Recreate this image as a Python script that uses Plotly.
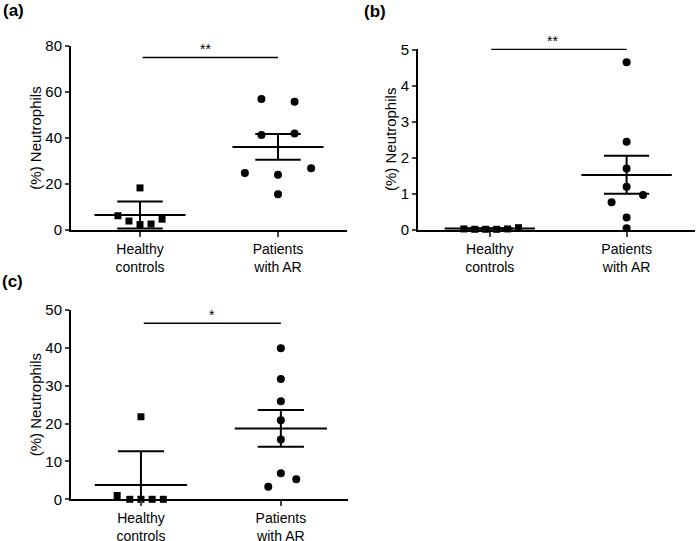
import plotly.graph_objects as go

W, H = 697, 541

categories = ["Healthy<br>controls", "Patients<br>with AR"]

# Panel (a)
a_healthy = [6.2, 3.9, 18.3, 2.4, 2.6, 4.7]
a_healthy_dx = [-0.16, -0.08, 0.0, 0.0, 0.08, 0.16]
a_patients = [57.0, 55.8, 41.3, 42.0, 24.8, 24.0, 26.8, 15.5]
a_patients_dx = [-0.12, 0.12, -0.12, 0.12, -0.24, 0.0, 0.24, 0.0]
a_mean = [6.5, 36.1]
a_upper = [12.4, 41.7]
a_lower = [0.6, 30.5]
a_sig = {"y": 75, "text": "**"}

# Panel (b)
b_healthy = [0.03, 0.02, 0.02, 0.02, 0.03, 0.065]
b_healthy_dx = [-0.19, -0.11, -0.03, 0.05, 0.13, 0.21]
b_patients = [4.66, 2.45, 1.71, 1.2, 0.97, 0.77, 0.35, 0.05]
b_patients_dx = [0.0, 0.0, 0.0, 0.0, 0.12, -0.11, 0.0, 0.0]
b_mean = [0.04, 1.53]
b_upper = [0.04, 2.06]
b_lower = [0.04, 1.01]
b_sig = {"y": 5.02, "text": "**"}

# Panel (c)
c_healthy = [1.0, 0.0, 21.8, 0.0, 0.0, 0.0]
c_healthy_dx = [-0.17, -0.08, 0.0, 0.0, 0.08, 0.16]
c_patients = [39.9, 31.8, 25.9, 20.9, 15.8, 6.9, 5.3, 3.3]
c_patients_dx = [0.0, 0.0, 0.0, 0.0, 0.0, 0.0, 0.11, -0.09]
c_mean = [3.8, 18.7]
c_upper = [12.7, 23.6]
c_lower = [0.0, 13.9]
c_sig = {"y": 46.5, "text": "*"}

FONT = "Arial, Liberation Sans, sans-serif"

def px_dom_x(x0, x1):
    return [x0 / W, x1 / W]

def px_dom_y(ytop, ybot):
    return [(H - ybot) / H, (H - ytop) / H]

panels = [
    dict(h=a_healthy, hdx=a_healthy_dx, p=a_patients, pdx=a_patients_dx,
         mean=a_mean, up=a_upper, lo=a_lower, sig=a_sig,
         yr=[0, 80], dtick=20, xr=[0.5, 2.5], sigshift=-5,
         xd=px_dom_x(71, 347), yd=px_dom_y(46, 230), sigx=[1.02, 2.0]),
    dict(h=b_healthy, hdx=b_healthy_dx, p=b_patients, pdx=b_patients_dx,
         mean=b_mean, up=b_upper, lo=b_lower, sig=b_sig,
         yr=[0, 5.04], dtick=1, xr=[0.475, 2.5], sigshift=-6,
         xd=px_dom_x(418, 695), yd=px_dom_y(48.6, 230), sigx=[1.01, 2.0]),
    dict(h=c_healthy, hdx=c_healthy_dx, p=c_patients, pdx=c_patients_dx,
         mean=c_mean, up=c_upper, lo=c_lower, sig=c_sig,
         yr=[0, 50], dtick=10, xr=[0.5, 2.48], sigshift=0,
         xd=px_dom_x(71, 348), yd=px_dom_y(310, 499.3), sigx=[1.02, 2.0]),
]

fig = go.Figure()
MW, CW = 0.33, 0.165

for i, P in enumerate(panels):
    n = "" if i == 0 else str(i + 1)
    xa, ya = "x" + n, "y" + n
    lx, ly = [], []
    for g in range(2):
        xc = g + 1
        lx += [xc - MW, xc + MW, None]
        ly += [P["mean"][g], P["mean"][g], None]
        lx += [xc, xc, None]
        ly += [P["lo"][g], P["up"][g], None]
        lx += [xc - CW, xc + CW, None]
        ly += [P["up"][g], P["up"][g], None]
        if P["lo"][g] > 0:
            lx += [xc - CW, xc + CW, None]
            ly += [P["lo"][g], P["lo"][g], None]
    fig.add_trace(go.Scatter(x=lx, y=ly, mode="lines", xaxis=xa, yaxis=ya,
                             line=dict(color="black", width=2), cliponaxis=False,
                             showlegend=False, hoverinfo="skip"))
    fig.add_trace(go.Scatter(x=P["sigx"], y=[P["sig"]["y"]] * 2, mode="lines",
                             xaxis=xa, yaxis=ya, line=dict(color="black", width=1.6),
                             cliponaxis=False, showlegend=False, hoverinfo="skip"))
    fig.add_annotation(x=sum(P["sigx"]) / 2, y=P["sig"]["y"], xref=xa, yref=ya,
                       text=P["sig"]["text"], showarrow=False, yanchor="bottom",
                       yshift=-2, xshift=P["sigshift"],
                       font=dict(family=FONT, size=14, color="black"))
    fig.add_trace(go.Scatter(x=[1 + d for d in P["hdx"]], y=P["h"], mode="markers",
                             xaxis=xa, yaxis=ya, cliponaxis=False,
                             marker=dict(symbol="square", size=7, color="black"),
                             showlegend=False))
    fig.add_trace(go.Scatter(x=[2 + d for d in P["pdx"]], y=P["p"], mode="markers",
                             xaxis=xa, yaxis=ya, cliponaxis=False,
                             marker=dict(symbol="circle", size=8, color="black"),
                             showlegend=False))
    xkey = "xaxis" + n
    ykey = "yaxis" + n
    fig.update_layout(**{
        xkey: dict(domain=P["xd"], range=P["xr"], anchor=ya, tickmode="array",
                   tickvals=[1, 2], ticktext=categories, ticks="outside",
                   ticklen=5, tickwidth=2, showline=True, linewidth=2,
                   linecolor="black", showgrid=False, zeroline=False,
                   automargin=False,
                   tickfont=dict(family=FONT, size=14, color="black")),
        ykey: dict(domain=P["yd"], range=P["yr"], anchor=xa, dtick=P["dtick"],
                   ticks="outside", ticklen=4, tickwidth=2, showline=True,
                   linewidth=2, linecolor="black", showgrid=False, zeroline=False,
                   automargin=False,
                   tickfont=dict(family=FONT, size=15, color="black"),
                   title=dict(text="(%) Neutrophils", standoff=0,
                              font=dict(family=FONT, size=15, color="black"))),
    })

for txt, x, y in [("(a)", 1, 10), ("(b)", 362, 12), ("(c)", 0, 281)]:
    fig.add_annotation(x=x / W, y=(H - y) / H, xref="paper",
                       yref="paper", text="<b>" + txt + "</b>", showarrow=False,
                       xanchor="left", yanchor="middle",
                       font=dict(family=FONT, size=17, color="black"))

fig.update_layout(width=W, height=H, margin=dict(l=0, r=0, t=0, b=0),
                  plot_bgcolor="white", paper_bgcolor="white")

fig.write_html("out.html", config={"displayModeBar": False},
               post_script="document.body.style.margin='0';document.body.style.padding='0';")
